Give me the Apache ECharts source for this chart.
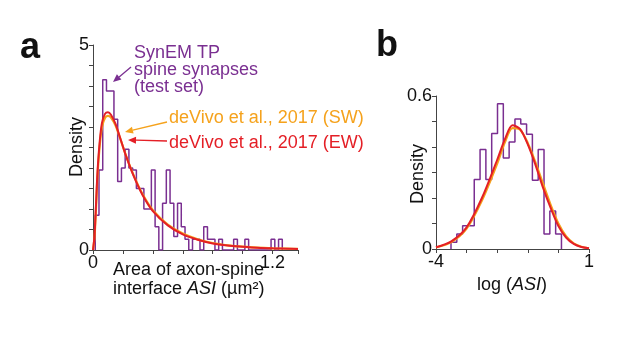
<!DOCTYPE html>
<html>
<head>
<meta charset="utf-8">
<script src="https://cdn.jsdelivr.net/npm/echarts@6/dist/echarts.min.js"></script>
<style>
  html, body { margin: 0; padding: 0; background: #fff; }
  #chart { width: 617px; height: 345px; }
</style>
</head>
<body>
<div id="chart"></div>
<script>
// panel a: histogram of ASI (um^2), bins
const aBinStart = 0.015
const aBinWidth = 0.025
const aHist = [0.85, 1.95, 4.15, 3.88, 3.88, 3.19, 1.67, 2.0, 2.46, 2.0,
  1.95, 1.5, 1.5, 1.0, 1.0, 1.95, 0.57, 0, 1.14, 1.95,
  1.14, 0.33, 1.14, 0.57, 0.26, 0, 0.26, 0.26, 0, 0.57,
  0.26, 0.26, 0, 0.26, 0, 0, 0, 0.26, 0, 0,
  0.26, 0, 0, 0, 0, 0, 0, 0.26, 0, 0.26]
// panel a: fitted curves (deVivo SW = orange, EW = red)
const aCurveX = [0, 0.01, 0.02, 0.03, 0.045, 0.06, 0.08, 0.1, 0.12, 0.15, 0.18, 0.22, 0.27,
  0.33, 0.4, 0.5, 0.6, 0.7, 0.8, 0.9, 1.0, 1.1, 1.2, 1.3, 1.37]
const aCurveEW = [0, 0.35, 1.1, 1.9, 2.65, 3.1, 3.32, 3.36, 3.3, 3.08, 2.75, 2.3, 1.82,
  1.35, 0.95, 0.6, 0.38, 0.25, 0.16, 0.11, 0.08, 0.055, 0.04, 0.03, 0.025]
const aCurveSW = [0, 0.3, 1.0, 1.8, 2.55, 3.0, 3.22, 3.27, 3.23, 3.04, 2.74, 2.31, 1.84,
  1.37, 0.97, 0.62, 0.4, 0.26, 0.17, 0.115, 0.08, 0.057, 0.042, 0.032, 0.026]

// panel b: histogram of log(ASI)
const bBinStart = -3.51
const bBinWidth = 0.19
const bHist = [0.026, 0.059, 0.091, 0.091, 0.273, 0.39, 0.273, 0.453, 0.57, 0.357,
  0.42, 0.51, 0.49, 0.45, 0.27, 0.39, 0.059, 0.149, 0.059]
const bCurveX = [-4, -3.5, -3, -2.5, -2, -1.75, -1.5, -1.25, -1, -0.75, -0.5, -0.25, 0, 0.25, 0.5, 0.75, 1]
const bCurveEW = [0.007, 0.03, 0.085, 0.2, 0.35, 0.43, 0.485, 0.47, 0.41, 0.33, 0.24, 0.16, 0.09, 0.045, 0.02, 0.008, 0.003]
const bCurveSW = [0.006, 0.027, 0.08, 0.19, 0.335, 0.418, 0.474, 0.468, 0.415, 0.34, 0.255, 0.172, 0.1, 0.05, 0.022, 0.009, 0.003]

const PURPLE = '#7a2f91'
const ORANGE = '#f5a21c'
const RED = '#e41f26'
const AXIS = '#444'
const FONT = '"Liberation Sans", Arial, sans-serif'

// histogram outline as a step line
function stepOutline(start, width, heights) {
  const pts = [[start, 0]]
  heights.forEach((h, i) => pts.push([start + i * width, h]))
  pts.push([start + heights.length * width, 0])
  return pts
}
const zip = (xs, ys) => xs.map((x, i) => [x, ys[i]])

function arrow(x1, y1, x2, y2, color) {
  const ang = Math.atan2(y2 - y1, x2 - x1)
  const len = 8, half = 3.5
  const bx = x2 - len * Math.cos(ang), by = y2 - len * Math.sin(ang)
  const px = -Math.sin(ang) * half, py = Math.cos(ang) * half
  return [
    { type: 'line', shape: { x1, y1, x2: bx, y2: by }, style: { stroke: color, lineWidth: 1.3 } },
    { type: 'polygon', shape: { points: [[x2, y2], [bx + px, by + py], [bx - px, by - py]] }, style: { fill: color } }
  ]
}
function txt(x, y, text, color, extra) {
  return Object.assign({
    type: 'text', x, y,
    style: { text, fill: color, font: '18px ' + FONT, textVerticalAlign: 'middle' }
  }, extra || {})
}

const near = (v, t) => Math.abs(v - t) < 1e-6
const axisCommon = {
  axisLine: { onZero: false, lineStyle: { color: AXIS, width: 1 } },
  axisTick: { show: true, length: 4, lineStyle: { color: AXIS } },
  splitLine: { show: false },
  axisLabel: { color: '#111', fontSize: 18, fontFamily: FONT, margin: 4 }
}

const chart = echarts.init(document.getElementById('chart'))
const lineBase = { type: 'line', showSymbol: false, silent: true, animation: false }

chart.setOption({
  animation: false,
  grid: [
    { left: 93, top: 45, width: 205, height: 205 },
    { left: 436, top: 96, width: 153, height: 153 }
  ],
  xAxis: [
    Object.assign({}, axisCommon, {
      type: 'value', gridIndex: 0, min: 0, max: 1.37, interval: 0.2,
      axisLabel: Object.assign({}, axisCommon.axisLabel, {
        formatter: v => near(v, 0) ? '0' : near(v, 1.2) ? '1.2' : ''
      })
    }),
    Object.assign({}, axisCommon, {
      type: 'value', gridIndex: 1, min: -4, max: 1, interval: 1,
      axisLabel: Object.assign({}, axisCommon.axisLabel, {
        formatter: v => near(v, -4) ? '-4' : near(v, 1) ? '1' : ''
      })
    })
  ],
  yAxis: [
    Object.assign({}, axisCommon, {
      type: 'value', gridIndex: 0, min: 0, max: 5, interval: 0.5,
      axisLabel: Object.assign({}, axisCommon.axisLabel, {
        formatter: v => near(v, 0) ? '0' : near(v, 5) ? '5' : ''
      })
    }),
    Object.assign({}, axisCommon, {
      type: 'value', gridIndex: 1, min: 0, max: 0.6, interval: 0.1,
      axisLabel: Object.assign({}, axisCommon.axisLabel, {
        formatter: v => near(v, 0) ? '0' : near(v, 0.6) ? '0.6' : ''
      })
    })
  ],
  series: [
    Object.assign({}, lineBase, {
      xAxisIndex: 0, yAxisIndex: 0, step: 'end',
      data: stepOutline(aBinStart, aBinWidth, aHist),
      lineStyle: { color: PURPLE, width: 1.5 }
    }),
    Object.assign({}, lineBase, {
      xAxisIndex: 0, yAxisIndex: 0, smooth: 0.3,
      data: zip(aCurveX, aCurveSW),
      lineStyle: { color: ORANGE, width: 2.2 }
    }),
    Object.assign({}, lineBase, {
      xAxisIndex: 0, yAxisIndex: 0, smooth: 0.3,
      data: zip(aCurveX, aCurveEW),
      lineStyle: { color: RED, width: 2 }
    }),
    Object.assign({}, lineBase, {
      xAxisIndex: 1, yAxisIndex: 1, step: 'end',
      data: stepOutline(bBinStart, bBinWidth, bHist),
      lineStyle: { color: PURPLE, width: 1.5 }
    }),
    Object.assign({}, lineBase, {
      xAxisIndex: 1, yAxisIndex: 1, smooth: 0.3,
      data: zip(bCurveX, bCurveSW),
      lineStyle: { color: ORANGE, width: 2.2 }
    }),
    Object.assign({}, lineBase, {
      xAxisIndex: 1, yAxisIndex: 1, smooth: 0.3,
      data: zip(bCurveX, bCurveEW),
      lineStyle: { color: RED, width: 2 }
    })
  ],
  graphic: [
    // panel letters
    txt(20, 48, 'a', '#111', { style: { text: 'a', fill: '#111', font: 'bold 36px ' + FONT, textVerticalAlign: 'middle' } }),
    txt(376, 46, 'b', '#111', { style: { text: 'b', fill: '#111', font: 'bold 36px ' + FONT, textVerticalAlign: 'middle' } }),
    // axis titles
    txt(77, 147, 'Density', '#111', { rotation: Math.PI / 2, style: { text: 'Density', fill: '#111', font: '18px ' + FONT, textAlign: 'center', textVerticalAlign: 'middle' } }),
    txt(418, 174, 'Density', '#111', { rotation: Math.PI / 2, style: { text: 'Density', fill: '#111', font: '18px ' + FONT, textAlign: 'center', textVerticalAlign: 'middle' } }),
    txt(113, 270, 'Area of axon-spine', '#111'),
    {
      type: 'text', x: 113, y: 289,
      style: {
        text: 'interface {i|ASI} (µm²)', fill: '#111', font: '18px ' + FONT, textVerticalAlign: 'middle',
        rich: { i: { fontStyle: 'italic', fontSize: 18, fontFamily: FONT, fill: '#111' } }
      }
    },
    {
      type: 'text', x: 512, y: 285,
      style: {
        text: 'log ({i|ASI})', fill: '#111', font: '18px ' + FONT, textAlign: 'center', textVerticalAlign: 'middle',
        rich: { i: { fontStyle: 'italic', fontSize: 18, fontFamily: FONT, fill: '#111' } }
      }
    },
    // annotations
    txt(134, 53, 'SynEM TP', PURPLE),
    txt(134, 70, 'spine synapses', PURPLE),
    txt(134, 87, '(test set)', PURPLE),
    txt(169, 118, 'deVivo et al., 2017 (SW)', ORANGE),
    txt(169, 143, 'deVivo et al., 2017 (EW)', RED)
  ]
    .concat(arrow(131, 67, 113, 82, PURPLE))
    .concat(arrow(167, 122, 125, 132, ORANGE))
    .concat(arrow(167, 141, 128, 140, RED))
})
</script>
</body>
</html>
